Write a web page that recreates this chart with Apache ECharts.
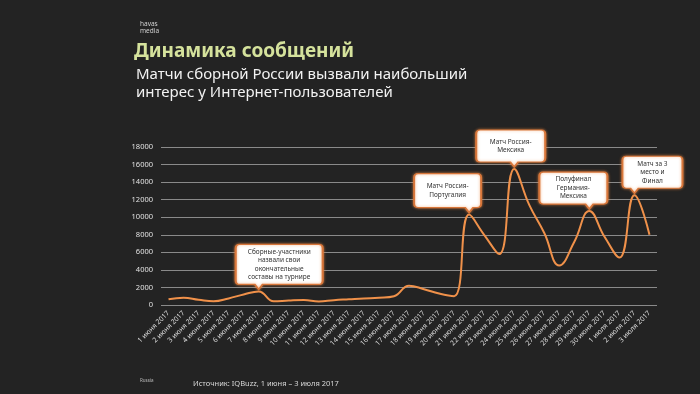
<!DOCTYPE html>
<html>
<head>
<meta charset="utf-8">
<script src="https://cdn.jsdelivr.net/npm/echarts@6/dist/echarts.min.js"></script>
<style>
html,body{margin:0;padding:0;background:#232323;}
#chart{width:700px;height:394px;}
</style>
</head>
<body>
<div id="chart"></div>
<script>
// ---- data ----
const categories = [
  '1 июня 2017','2 июня 2017','3 июня 2017','4 июня 2017','5 июня 2017','6 июня 2017',
  '7 июня 2017','8 июня 2017','9 июня 2017','10 июня 2017','11 июня 2017','12 июня 2017',
  '13 июня 2017','14 июня 2017','15 июня 2017','16 июня 2017','17 июня 2017','18 июня 2017',
  '19 июня 2017','20 июня 2017','21 июня 2017','22 июня 2017','23 июня 2017','24 июня 2017',
  '25 июня 2017','26 июня 2017','27 июня 2017','28 июня 2017','29 июня 2017','30 июня 2017',
  '1 июля 2017','2 июля 2017','3 июля 2017'
];
const messages = [
  650, 830, 600, 420, 750, 1200, 1550, 420, 520, 580, 400, 550,
  650, 750, 820, 1000, 2200, 1800, 1300, 1000, 10300, 8000, 5800, 15500,
  11400, 8200, 4500, 7200, 10700, 7800, 5400, 12500, 8000
];
const yTicks = [0, 2000, 4000, 6000, 8000, 10000, 12000, 14000, 16000, 18000];
const eventDates = ['7 июня 2017', '21 июня 2017', '24 июня 2017', '29 июня 2017', '2 июля 2017'];
const eventTexts = [
  'Сборные-участники\nназвали свои\nокончательные\nсоставы на турнире',
  'Матч Россия-\nПортугалия',
  'Матч Россия-\nМексика',
  'Полуфинал\nГермания-\nМексика',
  'Матч за 3\nместо и\nФинал'
];

// ---- callout styling (sizes in px, tail position from left) ----
const calloutStyle = [
  {w: 87, h: 40, tx: 23},
  {w: 67, h: 34, tx: 55},
  {w: 69, h: 32, tx: 38},
  {w: 68, h: 32, tx: 50},
  {w: 60, h: 32, tx: 12}
];
const TAIL = 5, GAP = 2;

function calloutPath(w, h, t, tx) {
  const r = 4;
  const b1 = Math.max(r, tx - 4), b2 = Math.min(w - r, tx + 4);
  return 'path://M' + r + ',0 H' + (w - r) + ' Q' + w + ',0 ' + w + ',' + r +
    ' V' + (h - r) + ' Q' + w + ',' + h + ' ' + (w - r) + ',' + h +
    ' H' + b2 + ' L' + tx + ',' + (h + t) + ' L' + b1 + ',' + h +
    ' H' + r + ' Q0,' + h + ' 0,' + (h - r) + ' V' + r + ' Q0,0 ' + r + ',0 Z';
}

const markData = eventDates.map(function (d, i) {
  const s = calloutStyle[i];
  const idx = categories.indexOf(d);
  return {
    coord: [d, messages[idx]],
    symbol: calloutPath(s.w, s.h, TAIL, s.tx),
    symbolSize: [s.w, s.h + TAIL],
    symbolOffset: [s.w / 2 - s.tx, -(s.h + TAIL) / 2 - GAP],
    label: {formatter: eventTexts[i]}
  };
});

const FONT = 'Noto Sans';
const chart = echarts.init(document.getElementById('chart'), null, {renderer: 'canvas'});
chart.setOption({
  backgroundColor: '#232323',
  animation: false,
  title: [
    {text: 'havas\nmedia', left: 135, top: 15,
     textStyle: {color: '#cfcfcf', fontSize: 6.5, fontWeight: 'normal', lineHeight: 7.5, fontFamily: FONT}},
    {text: 'Динамика сообщений', left: 129, top: 37,
     textStyle: {color: '#d5e29c', fontSize: 19, fontWeight: 'bold', fontFamily: FONT}},
    {text: 'Матчи сборной России вызвали наибольший\nинтерес у Интернет-пользователей', left: 131, top: 60,
     textStyle: {color: '#f2f2f2', fontSize: 15, fontWeight: 'normal', lineHeight: 18.5, fontFamily: FONT}},
    {text: 'Источник: IQBuzz, 1 июня – 3 июля 2017', left: 188, top: 375,
     textStyle: {color: '#d8d8d8', fontSize: 7.5, fontWeight: 'normal', fontFamily: FONT}},
    {text: 'Russia', left: 135, top: 373,
     textStyle: {color: '#bdbdbd', fontSize: 4.5, fontWeight: 'normal', fontFamily: FONT}}
  ],
  grid: {left: 161, right: 43, top: 147, bottom: 89, containLabel: false},
  xAxis: {
    type: 'category',
    data: categories,
    boundaryGap: true,
    axisLine: {show: false},
    axisTick: {show: false},
    axisLabel: {interval: 0, rotate: 45, color: '#d9d9d9', fontSize: 7, margin: 7, fontFamily: FONT}
  },
  yAxis: {
    type: 'value',
    min: yTicks[0],
    max: yTicks[yTicks.length - 1],
    interval: yTicks[1] - yTicks[0],
    axisLine: {show: false},
    axisTick: {show: false},
    axisLabel: {color: '#e0e0e0', fontSize: 7.5, margin: 8, fontFamily: FONT,
                formatter: function (v) { return String(v); }},
    splitLine: {lineStyle: {color: '#8a8a8a', width: 1}}
  },
  series: [{
    type: 'line',
    data: messages,
    smooth: 0.45,
    showSymbol: false,
    lineStyle: {color: '#f0914a', width: 2},
    itemStyle: {color: '#f0914a'},
    markPoint: {
      silent: true,
      itemStyle: {color: '#ffffff', borderColor: '#d8763a', borderWidth: 1.5,
                  shadowBlur: 3, shadowColor: 'rgba(240,140,70,0.7)'},
      label: {show: true, position: 'inside', offset: [0, -TAIL / 2], color: '#333333',
              fontSize: 6.5, lineHeight: 8.5, align: 'center', fontFamily: FONT},
      data: markData
    }
  }]
});
</script>
</body>
</html>
